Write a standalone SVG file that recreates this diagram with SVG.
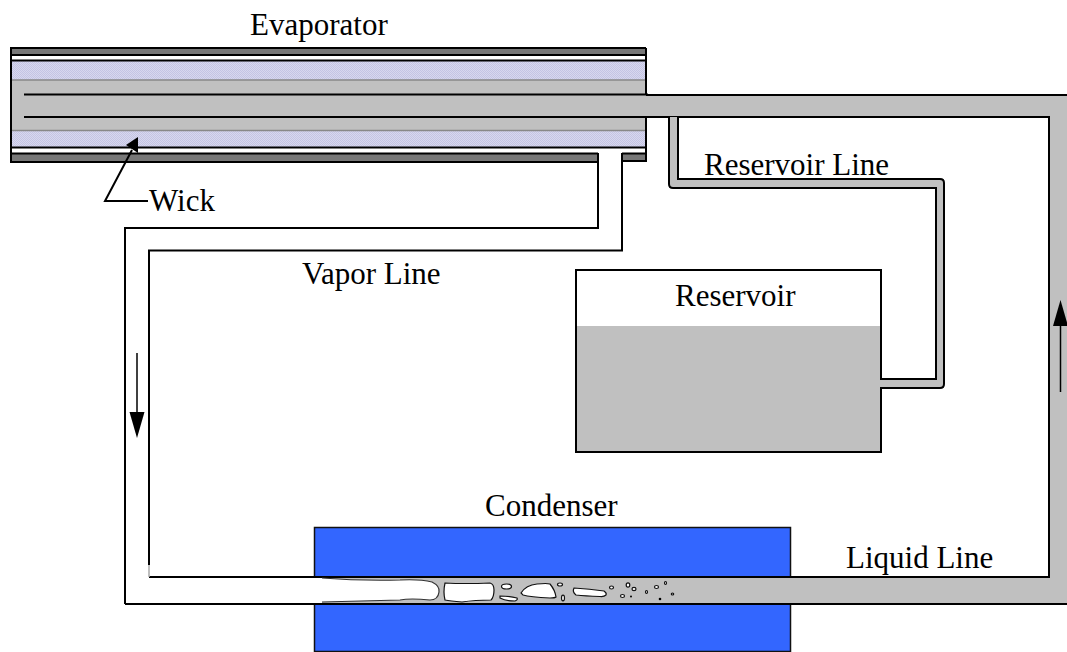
<svg xmlns="http://www.w3.org/2000/svg" width="1067" height="652" viewBox="0 0 1067 652">
<style>
text{font-family:"Liberation Serif","Times New Roman",serif;font-size:31px;fill:#000}
.l{fill:none;stroke:#000;stroke-width:2}
.b{fill:#fff;stroke:#111;stroke-width:1.200}
.g{fill:#c0c0c0}
</style>
<defs>
<pattern id="wickfill" width="2" height="2" patternUnits="userSpaceOnUse">
<rect width="2" height="2" fill="#d8d8ee"/><rect width="1" height="1" fill="#c4c4e4"/><rect x="1" y="1" width="1" height="1" fill="#c4c4e4"/>
</pattern>
</defs>
<rect width="1067" height="652" fill="#fff"/>
<g id="condenser">
<rect x="314.500" y="527.500" width="476" height="124" fill="#3366ff" stroke="#111" stroke-width="1.500"/>
</g>
<g id="connectors">
<path class="g" d="M646 95H1067V604H320V577H1049V117H646Z"/>
<path class="l" d="M646 95H1067M646 117H1049V577H150M125 604H1067"/>
<path d="M125 228H598V161H622V251H149V577H322V604H125Z" fill="#fff"/>
<path class="l" d="M598 161V228H125V604M622 161V250.500H149V565M125 604H322M149 577H322"/>
<path d="M149 565V577" stroke="#aaa" stroke-width="1.500"/>
<path class="g" d="M669 117H678V179H944V388H881V379H936V188H669Z"/>
<path class="l" d="M669 117V184Q669 188 673 188H936V379H881M678 117V179H940Q944 179 944 183V384Q944 388 940 388H881"/>
</g>
<g id="evaporator">
<rect x="11" y="48" width="635" height="113" fill="#fff"/>
<rect x="12" y="49" width="633" height="6" fill="#777"/>
<rect x="12" y="154" width="586" height="7" fill="#777"/>
<rect x="622" y="154" width="23" height="7" fill="#777"/>
<rect x="12" y="61" width="633" height="19" fill="url(#wickfill)"/>
<rect x="12" y="131" width="633" height="17" fill="url(#wickfill)"/>
<rect class="g" x="12" y="80" width="634" height="51"/>
<path d="M646 96V116" stroke="#c0c0c0" stroke-width="3"/>
<path class="l" d="M646 48V95M646 117V161M11 48H646M11 47V162H598M622 161H647M11 55H646M11 60.500H646M11 147.500H646M11 153.500H598M622 153.500H646M24 94.500H648M24 117H648"/>
<path d="M12 80H645M12 130.500H645" stroke="#888" stroke-width="1.500"/>
<path d="M598 155H622V162H598Z" fill="#fff"/>
<path class="l" d="M598 153V162M622 153V162"/>
<text x="250" y="35">Evaporator</text>
</g>
<g id="wick">
<path class="l" d="M148 201H105L132 150"/>
<path d="M138 137L126 145L138 153Z" fill="#000"/>
<text x="149" y="211">Wick</text>
</g>
<g id="reservoir">
<rect x="576.500" y="270" width="304.500" height="182" fill="#fff"/>
<rect class="g" x="576" y="326" width="305" height="126"/>
<rect x="576" y="270" width="305" height="182" fill="none" stroke="#000" stroke-width="2"/>
<rect class="g" x="879" y="380" width="4" height="7"/>
<text x="675" y="306">Reservoir</text>
</g>
<g id="labels">
<text x="704" y="175">Reservoir Line</text>
<text x="302" y="284">Vapor Line</text>
<text x="485" y="516">Condenser</text>
<text x="846" y="568">Liquid Line</text>
</g>
<g id="flow-arrows">
<path d="M137 353V413" stroke="#000" stroke-width="1.500"/><path d="M129.500 412H144.500L137 438Z" fill="#000"/>
<path d="M1060.500 392V326" stroke="#000" stroke-width="1.500"/><path d="M1053 326H1068L1060.500 300Z" fill="#000"/>
</g>
<g id="bubbles">
<path d="M322 578Q360 581 400 580Q420 579 432 582Q440 586 439 592Q438 600 430 600Q410 598 400 600Q360 601 322 602Z" fill="#fff"/>
<path d="M322 578Q360 581 400 580Q420 579 432 582Q440 586 439 592Q438 600 430 600Q410 598 400 600Q360 601 322 602" fill="none" stroke="#333" stroke-width="1.200"/>
<path class="b" d="M445 583Q465 584 490 583Q494 584 494 590Q494 597 491 600Q475 600 462 602Q450 601 445 600Q443 592 445 583Z"/>
<ellipse class="b" cx="506.500" cy="586.500" rx="5" ry="2.500"/>
<path class="b" d="M500 596Q510 596 517 598Q518 600 515 601Q505 601 500 598Z"/>
<path class="b" d="M521 593Q526 585 537 584Q547 583 550 584Q555 590 556 597Q555 598 550 598Q530 597 523 595Z"/>
<ellipse class="b" cx="560" cy="584.500" rx="2.500" ry="1.500"/>
<ellipse class="b" cx="563" cy="598" rx="1.500" ry="2.800"/>
<path class="b" d="M574 588Q590 589 604 591Q607 593 606 595Q604 597 600 596.500Q585 596 576 595Q572 592 574 588Z"/>
<ellipse class="b" cx="611.500" cy="587.500" rx="2" ry="1.500"/>
<ellipse class="b" cx="628" cy="585" rx="1.800" ry="2.200"/>
<ellipse class="b" cx="634" cy="589" rx="2" ry="1.600"/>
<ellipse class="b" cx="622.500" cy="596" rx="2" ry="1.500"/>
<circle cx="631" cy="596.500" r="1"/>
<ellipse class="b" cx="646.500" cy="592" rx="1" ry="1.500"/>
<ellipse class="b" cx="656.500" cy="587" rx="2" ry="1.500"/>
<ellipse class="b" cx="665.500" cy="583" rx="1" ry="1.500"/>
<ellipse class="b" cx="672.500" cy="594" rx="1.200" ry="1"/>
<circle cx="660" cy="599" r="1.300"/>
</g>
</svg>
